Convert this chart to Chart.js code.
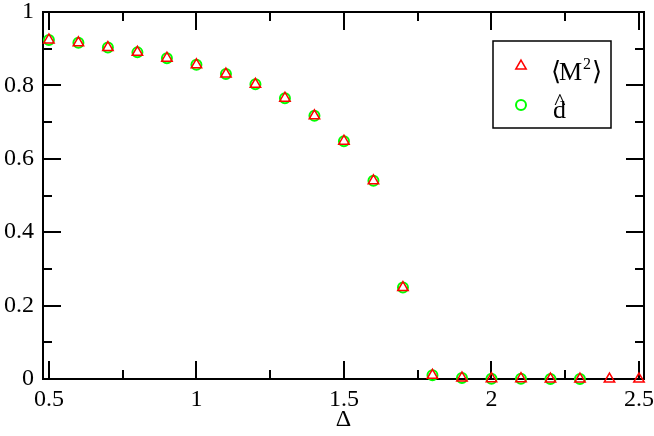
<!DOCTYPE html>
<html><head><meta charset="utf-8">
<script src="https://cdn.jsdelivr.net/npm/chart.js@4/dist/chart.umd.min.js"></script>
<style>html,body{margin:0;padding:0;background:#fff}#wrap{width:654px;height:436px}</style>
</head><body><div id="wrap"><canvas id="c" width="654" height="436"></canvas></div>
<script>
const deltaM2 = [0.5,0.6,0.7,0.8,0.9,1.0,1.1,1.2,1.3,1.4,1.5,1.6,1.7,1.8,1.9,2.0,2.1,2.2,2.3,2.4,2.5];
const m2Values = [0.924,0.916,0.903,0.890,0.874,0.856,0.831,0.803,0.765,0.717,0.648,0.540,0.249,0.010,0.003,0.001,0.001,0.000,0.000,0.000,0.000];
const deltaD = [0.5,0.6,0.7,0.8,0.9,1.0,1.1,1.2,1.3,1.4,1.5,1.6,1.7,1.8,1.9,2.0,2.1,2.2,2.3];
const dValues = [0.924,0.916,0.903,0.890,0.874,0.856,0.831,0.803,0.765,0.717,0.648,0.540,0.249,0.010,0.003,0.001,0.001,0.000,0.000];
const xTicks = [0.5,1,1.5,2,2.5];
const xMinorTicks = [0.75,1.25,1.75,2.25];
const yTicks = [0,0.2,0.4,0.6,0.8,1];
const yMinorTicks = [0.1,0.3,0.5,0.7,0.9];
const seriesNames = ['M2','d'];

const FONT = '"Liberation Serif", "DejaVu Serif", serif';
Chart.defaults.font.family = FONT;
Chart.defaults.font.size = 24;
Chart.defaults.color = '#000';

const framePlugin = {
  id: 'frame',
  beforeDatasetsDraw(chart) {
    const {ctx, chartArea: a, scales: {x, y}} = chart;
    ctx.save();
    ctx.strokeStyle = '#000';
    ctx.lineWidth = 2;
    ctx.strokeRect(a.left, a.top, a.right - a.left, a.bottom - a.top);
    ctx.beginPath();
    const xt = (vals, len) => vals.forEach(v => {
      const p = Math.round(x.getPixelForValue(v));
      ctx.moveTo(p, a.bottom); ctx.lineTo(p, a.bottom - len);
      ctx.moveTo(p, a.top); ctx.lineTo(p, a.top + len);
    });
    const yt = (vals, len) => vals.forEach(v => {
      const p = Math.round(y.getPixelForValue(v));
      ctx.moveTo(a.left, p); ctx.lineTo(a.left + len, p);
      ctx.moveTo(a.right, p); ctx.lineTo(a.right - len, p);
    });
    xt(xTicks, 18); xt(xMinorTicks, 9);
    yt(yTicks, 18); yt(yMinorTicks, 9);
    ctx.stroke();
    ctx.restore();
  }
};

const legendPlugin = {
  id: 'customLegend',
  afterDraw(chart) {
    const ctx = chart.ctx;
    const ds = chart.data.datasets;
    ctx.save();
    ctx.strokeStyle = '#000';
    ctx.lineWidth = 1.5;
    ctx.strokeRect(493, 41, 118, 87);
    const opt0 = {pointStyle: ds[0].pointStyle, radius: ds[0].pointRadius, rotation: 0, borderWidth: ds[0].pointBorderWidth};
    ctx.strokeStyle = ds[0].pointBorderColor; ctx.fillStyle = 'rgba(0,0,0,0)'; ctx.lineWidth = ds[0].pointBorderWidth;
    Chart.helpers.drawPoint(ctx, opt0, 521, 66);
    const opt1 = {pointStyle: ds[1].pointStyle, radius: ds[1].pointRadius, rotation: 0, borderWidth: ds[1].pointBorderWidth};
    ctx.strokeStyle = ds[1].pointBorderColor; ctx.lineWidth = ds[1].pointBorderWidth;
    Chart.helpers.drawPoint(ctx, opt1, 521, 105);
    ctx.fillStyle = '#000';
    ctx.textBaseline = 'alphabetic';
    ctx.textAlign = 'left';
    ctx.font = "26px " + FONT;
    ctx.fillText('\u27E8', 551, 80);
    ctx.fillText('M', 559, 80);
    ctx.fillText('\u27E9', 592, 80);
    ctx.font = "16px " + FONT;
    ctx.fillText('2', 583, 69);
    ctx.font = "26px " + FONT;
    ctx.fillText('d', 553, 118);
    ctx.font = "24px " + FONT;
    ctx.textAlign = 'center';
    ctx.fillText('^', 560, 109);
    ctx.restore();
  }
};

const toPts = (xs, ys) => xs.map((v, i) => ({x: v, y: ys[i]}));

new Chart(document.getElementById('c'), {
  type: 'scatter',
  data: {
    datasets: [
      {label: seriesNames[0], data: toPts(deltaM2, m2Values), pointStyle: 'triangle', pointRadius: 6, pointBorderWidth: 1.5,
       borderColor: '#ff0000', backgroundColor: 'rgba(0,0,0,0)', pointBackgroundColor: 'rgba(0,0,0,0)', pointBorderColor: '#ff0000', showLine: false, clip: false},
      {label: seriesNames[1], data: toPts(deltaD, dValues), pointStyle: 'circle', pointRadius: 5, pointBorderWidth: 2,
       borderColor: '#00ff00', backgroundColor: 'rgba(0,0,0,0)', pointBackgroundColor: 'rgba(0,0,0,0)', pointBorderColor: '#00ff00', showLine: false, clip: false}
    ]
  },
  options: {
    responsive: false,
    animation: false,
    devicePixelRatio: 1,
    layout: {padding: {left: 0, right: 10, top: 12, bottom: 0}},
    plugins: {legend: {display: false}, tooltip: {enabled: false}},
    scales: {
      x: {
        type: 'linear', min: 0.48, max: 2.517,
        afterBuildTicks: s => { s.ticks = xTicks.map(v => ({value: v})); },
        afterFit: s => { s.height = 57; s.paddingLeft = 0; s.paddingRight = 0; },
        grid: {display: false, drawTicks: false},
        border: {display: false},
        ticks: {color: '#000', font: {family: FONT, size: 24}, padding: 6, maxRotation: 0, autoSkip: false,
                callback: v => String(v)},
        title: {display: true, text: '\u0394', color: '#000', font: {family: FONT, size: 24}, padding: {top: 0, bottom: 2}}
      },
      y: {
        type: 'linear', min: 0, max: 1,
        afterBuildTicks: s => { s.ticks = yTicks.map(v => ({value: v})); },
        afterFit: s => { s.width = 43; s.paddingTop = 0; s.paddingBottom = 0; },
        grid: {display: false, drawTicks: false},
        border: {display: false},
        ticks: {color: '#000', font: {family: FONT, size: 24}, padding: 9, autoSkip: false,
                callback: v => String(v)}
      }
    }
  },
  plugins: [framePlugin, legendPlugin]
});
</script></body></html>
